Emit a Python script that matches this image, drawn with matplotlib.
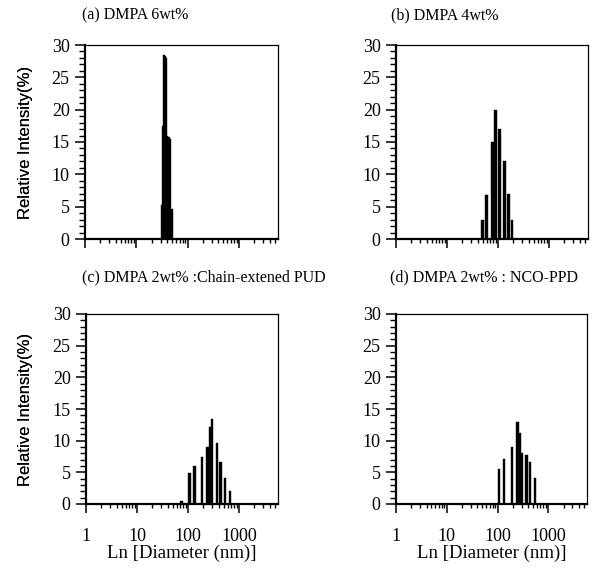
"""DLS particle size distributions of PUD dispersions, 4 panels (a)-(d)."""
import numpy as np
import matplotlib
matplotlib.use("Agg")
import matplotlib.pyplot as plt
from matplotlib.ticker import LogLocator, MultipleLocator, FixedLocator, NullFormatter

SERIF = "Liberation Serif"
SANS = "Liberation Sans"

# --- данные (диаметр, нм -> относительная интенсивность, %) ---
titles = [
    "(a) DMPA 6wt%",
    "(b) DMPA 4wt%",
    "(c) DMPA 2wt% :Chain-extened PUD",
    "(d) DMPA 2wt% : NCO-PPD",
]

d_a = [31.3, 33.1, 34.9, 36.9, 38.9, 41.1, 43.4, 45.8, 48.4, 51.1]
i_a = [5.3, 17.5, 28.5, 28.3, 28.0, 16.0, 15.8, 15.5, 4.6, 4.6]

d_b = [50, 60, 77, 90, 106, 133, 159, 188]
i_b = [3.0, 6.8, 15.0, 20.0, 17.0, 12.0, 7.0, 3.0]

d_c = [75, 106, 133, 188, 239, 274, 296, 370, 430, 530, 665]
i_c = [0.5, 4.9, 6.0, 7.5, 9.0, 12.1, 13.5, 9.7, 6.6, 4.1, 2.1]

d_d = [108, 135, 192, 245, 268, 297, 373, 435, 548]
i_d = [5.5, 7.1, 9.0, 13.0, 11.2, 8.0, 7.7, 6.6, 4.1]

x_ticks = [1, 10, 100, 1000]
x_ticklabels = ["1", "10", "100", "1000"]
y_ticks = [0, 5, 10, 15, 20, 25, 30]

W, H = 598, 582
# положение осей в пикселях: (left, top, right, bottom)
boxes = [(85, 45, 278, 239), (396, 45, 588, 239),
         (86, 314, 278, 504), (396, 314, 587, 504)]
title_xy = [(82, 15), (391, 15), (82, 277), (390, 277)]
panels = [(d_a, i_a, 0.0253), (d_b, i_b, 0.05), (d_c, i_c, 0.05), (d_d, i_d, 0.05)]

fig = plt.figure(figsize=(W / 100, H / 100), dpi=100)
fig.patch.set_facecolor("white")

for k, ((l, t, r, b), (d, inten, wlog)) in enumerate(zip(boxes, panels)):
    ax = fig.add_axes([l / W, 1 - b / H, (r - l) / W, (b - t) / H])
    d = np.asarray(d, float)
    rr = 10 ** (wlog / 2)
    ax.bar(d / rr, inten, width=d * rr - d / rr, align="edge",
           color="black", edgecolor="black", linewidth=0.3)

    ax.set_xscale("log")
    ax.set_xlim(1, 5800)
    ax.set_ylim(0, 30)

    ax.xaxis.set_major_locator(FixedLocator(x_ticks))
    ax.xaxis.set_minor_locator(LogLocator(base=10, subs=np.arange(2, 10), numticks=20))
    ax.xaxis.set_minor_formatter(NullFormatter())
    ax.yaxis.set_major_locator(FixedLocator(y_ticks))
    ax.yaxis.set_minor_locator(MultipleLocator(1))

    bottom_row = k >= 2
    if bottom_row:
        ax.set_xticklabels(x_ticklabels)
        ax.set_xlabel("Ln [Diameter (nm)]", family=SERIF, fontsize=13.5)
        ax.xaxis.set_label_coords(0.5, -0.215)
    else:
        ax.set_xticklabels([])
    ax.set_yticklabels([str(v) for v in y_ticks])

    ax.tick_params(axis="x", which="major", direction="out", length=6.5, width=1.1,
                   pad=11, labelsize=13)
    ax.tick_params(axis="x", which="minor", direction="out", length=3, width=1.0)
    ax.tick_params(axis="y", which="major", direction="out", length=7, width=1.1,
                   pad=4, labelsize=13)
    ax.tick_params(axis="y", which="minor", direction="out", length=4, width=1.0)
    for lab in ax.get_xticklabels() + ax.get_yticklabels():
        lab.set_family(SERIF)

    ax.set_ylabel("Relative Intensity(%)", family=SANS, fontsize=12)
    ax.yaxis.set_label_coords((33 - l) / (r - l), 0.5)

    ax.spines["left"].set_linewidth(1.6)
    ax.spines["bottom"].set_linewidth(1.6)
    ax.spines["top"].set_linewidth(0.9)
    ax.spines["right"].set_linewidth(0.9)

    tx, ty = title_xy[k]
    fig.text(tx / W, 1 - ty / H, titles[k], family=SERIF, fontsize=11.5,
             ha="left", va="center")

fig.savefig("out.png", dpi=100, facecolor="white")
